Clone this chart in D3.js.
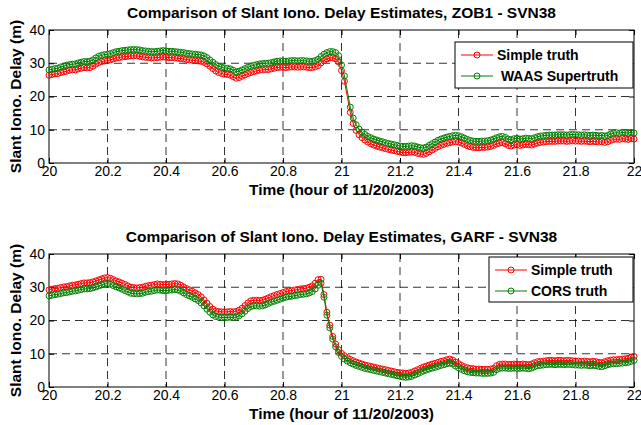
<!DOCTYPE html>
<html>
<head>
<meta charset="utf-8">
<script src="https://cdnjs.cloudflare.com/ajax/libs/d3/7.8.5/d3.min.js"></script>
<style>
  body { margin: 0; background: #fff; }
  svg { font-family: Arial, "Liberation Sans", Helvetica, sans-serif; }
  .tick text { font-size: 14px; fill: #000; }
  .tick line { stroke: #000; }
</style>
</head>
<body>
<div id="chart"></div>
<script>
// sample times: 20.00 .. 22.00 hr, every 0.01 hr
var startHour = 20, stepHour = 0.01

var xTicks = [20, 20.2, 20.4, 20.6, 20.8, 21, 21.2, 21.4, 21.6, 21.8, 22]
var yTicks = [0, 10, 20, 30, 40]

// ZOB1 - SVN38
var zobSimple = [
  26.4,26.6,26.8,26.9,27.2,27.4,27.6,27.9,28.0,28.0,
  28.3,28.5,28.7,28.6,28.7,29.1,29.7,30.2,30.5,30.7,
  30.8,31.0,31.3,31.6,31.7,31.9,32.0,32.1,32.2,32.2,
  32.2,32.1,31.9,31.8,31.7,31.6,31.6,31.7,31.8,31.9,
  31.8,31.7,31.7,31.6,31.5,31.4,31.3,31.1,31.0,30.9,
  30.8,30.7,30.6,30.3,29.8,29.1,28.4,27.7,27.2,26.9,
  26.7,26.6,26.4,26.0,25.5,25.7,26.1,26.5,26.9,27.2,
  27.5,27.7,27.9,28.0,28.1,28.1,28.3,28.5,28.7,28.8,
  28.8,28.7,28.8,28.9,28.9,28.8,28.9,28.9,28.8,28.7,
  28.7,28.9,29.3,30.1,30.8,31.3,31.6,31.6,31.3,30.4,
  27.8,24.6,null,15.2,11.9,9.8,8.5,7.6,6.9,6.3,
  5.8,5.4,5.1,4.8,4.6,4.3,4.1,3.9,3.7,3.5,
  3.3,3.1,3.1,3.2,3.3,3.2,2.9,2.7,2.6,2.9,
  3.4,3.9,4.4,4.9,5.3,5.6,5.9,6.1,6.3,6.4,
  6.3,6.0,5.6,5.2,4.9,4.7,4.6,4.6,4.7,4.7,
  4.8,5.0,5.3,5.7,6.0,6.1,5.8,5.3,5.1,5.4,
  5.5,5.3,5.4,5.6,5.5,5.4,5.7,6.0,6.2,6.3,
  6.4,6.5,6.5,6.5,6.6,6.6,6.6,6.5,6.6,6.7,
  6.6,6.6,6.5,6.6,6.5,6.4,6.5,6.4,6.3,6.4,
  6.2,6.4,6.8,7.1,7.2,7.1,7.3,7.2,7.1,7.3,
  7.2
]
var zobWaas = [
  28.0,28.2,28.4,28.5,28.9,29.1,29.4,29.6,29.7,29.8,
  30.1,30.3,30.5,30.5,30.6,31.0,31.6,32.1,32.4,32.6,
  32.7,32.9,33.2,33.5,33.6,33.8,33.9,34.0,34.1,34.1,
  34.1,34.0,33.8,33.7,33.6,33.5,33.5,33.6,33.7,33.8,
  33.7,33.6,33.6,33.5,33.4,33.3,33.2,33.0,32.9,32.8,
  32.7,32.6,32.5,32.2,31.7,31.0,30.3,29.6,29.1,28.8,
  28.6,28.5,28.3,27.9,27.4,27.6,28.0,28.4,28.8,29.1,
  29.4,29.6,29.8,29.9,30.0,30.0,30.2,30.4,30.6,30.7,
  30.7,30.6,30.7,30.8,30.8,30.7,30.8,30.8,30.7,30.6,
  30.6,30.8,31.2,32.0,32.7,33.2,33.5,33.5,33.2,32.3,
  29.5,26.2,null,16.8,13.5,11.5,10.2,9.3,8.6,8.0,
  7.6,7.2,6.9,6.6,6.4,6.1,5.9,5.7,5.5,5.3,
  5.1,5.0,5.0,5.1,5.2,5.1,4.8,4.6,4.5,4.8,
  5.3,5.8,6.3,6.8,7.2,7.5,7.8,8.0,8.2,8.3,
  8.2,7.9,7.5,7.1,6.8,6.6,6.5,6.5,6.6,6.6,
  6.7,6.9,7.2,7.6,7.9,8.0,7.7,7.2,7.0,7.3,
  7.4,7.2,7.3,7.5,7.4,7.3,7.6,7.9,8.1,8.2,
  8.3,8.4,8.4,8.4,8.5,8.5,8.5,8.4,8.5,8.6,
  8.5,8.5,8.4,8.5,8.4,8.3,8.4,8.3,8.2,8.3,
  8.1,8.3,8.7,9.0,9.1,9.0,9.2,9.1,9.0,9.2,
  9.0
]

// GARF - SVN38
var garfSimple = [
  29.2,29.4,29.6,29.7,29.9,30.1,30.2,30.4,30.6,30.7,
  30.9,31.1,31.3,31.3,31.4,31.6,31.9,32.2,32.5,32.8,
  32.9,32.7,32.3,31.9,31.6,31.2,30.8,30.4,30.0,29.9,
  29.8,29.9,30.0,30.3,30.5,30.6,30.8,31.0,30.9,30.8,
  30.8,30.9,31.0,31.1,31.0,30.6,30.1,29.6,29.2,28.8,
  28.3,27.8,27.1,26.2,25.2,24.2,23.4,22.9,22.7,22.6,
  22.6,22.6,22.7,22.6,22.7,23.1,23.7,24.5,25.3,25.9,
  26.1,26.1,26.0,26.1,26.4,26.8,27.2,27.5,27.8,28.1,
  28.4,28.7,28.9,29.0,29.2,29.3,29.5,29.6,29.7,30.0,
  30.4,31.2,32.3,32.4,27.8,22.5,18.6,15.2,12.9,11.2,
  10.1,9.4,8.8,8.3,7.9,7.5,7.2,6.9,6.6,6.4,
  6.2,6.0,5.8,5.6,5.4,5.2,5.0,4.8,4.6,4.4,
  4.3,4.2,4.1,4.2,4.4,4.8,5.2,5.6,6.0,6.3,
  6.6,6.9,7.1,7.4,7.7,7.9,8.2,8.4,8.1,7.5,
  7.0,6.5,6.1,5.8,5.6,5.5,5.4,5.4,5.3,5.3,
  5.3,5.4,5.6,6.4,6.8,6.9,6.9,6.8,6.8,6.9,
  6.8,6.8,6.9,6.8,6.7,6.9,7.3,7.6,7.7,7.8,
  7.9,8.0,8.0,7.9,8.0,8.0,7.9,8.0,8.0,7.9,
  7.8,7.8,7.7,7.8,7.7,7.6,7.7,7.6,7.4,7.3,
  7.6,7.9,8.1,8.2,8.2,8.3,8.4,8.5,8.6,8.9,
  9.2
]
var garfCors = [
  27.4,27.6,27.8,27.9,28.1,28.3,28.4,28.6,28.8,28.9,
  29.1,29.3,29.5,29.5,29.6,29.8,30.1,30.4,30.7,31.0,
  31.1,30.9,30.5,30.1,29.8,29.4,29.0,28.6,28.2,28.1,
  28.0,28.1,28.2,28.5,28.7,28.8,29.0,29.2,29.1,29.0,
  29.0,29.1,29.2,29.3,29.2,28.8,28.3,27.8,27.4,27.0,
  26.5,26.0,25.3,24.4,23.4,22.5,21.7,21.2,21.0,20.9,
  20.9,20.9,21.0,20.9,21.0,21.4,22.0,22.8,23.6,24.2,
  24.4,24.4,24.3,24.4,24.7,25.1,25.5,25.8,26.1,26.4,
  26.7,27.0,27.2,27.3,27.5,27.6,27.8,27.9,28.0,28.3,
  28.7,29.5,30.6,31.2,27.0,21.6,17.8,14.4,12.1,10.4,
  9.2,8.4,7.8,7.3,6.9,6.5,6.2,5.9,5.6,5.4,
  5.2,5.0,4.8,4.6,4.4,4.2,4.0,3.8,3.6,3.4,
  3.2,3.0,2.9,3.0,3.2,3.6,4.0,4.4,4.8,5.1,
  5.4,5.7,5.9,6.2,6.5,6.7,7.0,7.2,6.9,6.3,
  5.8,5.3,4.9,4.6,4.4,4.3,4.2,4.2,4.1,4.1,
  4.1,4.2,4.4,5.2,5.6,5.7,5.7,5.6,5.6,5.7,
  5.6,5.6,5.7,5.6,5.5,5.7,6.1,6.4,6.5,6.6,
  6.7,6.8,6.8,6.7,6.8,6.8,6.7,6.8,6.8,6.7,
  6.6,6.6,6.5,6.6,6.5,6.4,6.5,6.4,6.2,6.1,
  6.4,6.7,6.9,7.0,7.0,7.1,7.2,7.3,7.4,7.7,
  8.0
]

var width = 641, height = 425
var svg = d3.select("#chart").append("svg")
    .attr("width", width)
    .attr("height", height)

function toPoints(vals) {
  var pts = []
  vals.forEach(function(v, i) {
    if (v != null) pts.push({ t: startHour + i*stepHour, v: v })
  })
  return pts
}

function tickLabel(d) { return String(d) }

function drawPanel(cfg) {
  var x = d3.scaleLinear().domain([20, 22]).range([cfg.left, cfg.right])
  var y = d3.scaleLinear().domain([0, 40]).range([cfg.bottom, cfg.top])
  var g = svg.append("g")

  // dashed grid
  g.selectAll("line.vgrid")
      .data(xTicks.slice(1, -1))
    .enter().append("line")
      .attr("x1", function(d) { return x(d) }).attr("x2", function(d) { return x(d) })
      .attr("y1", cfg.top).attr("y2", cfg.bottom)
      .style("stroke", "#000").style("stroke-dasharray", "8,5").style("stroke-width", 0.8)
  g.selectAll("line.hgrid")
      .data(yTicks.slice(1, -1))
    .enter().append("line")
      .attr("x1", cfg.left).attr("x2", cfg.right)
      .attr("y1", function(d) { return y(d) }).attr("y2", function(d) { return y(d) })
      .style("stroke", "#000").style("stroke-dasharray", "8,5").style("stroke-width", 0.8)

  // axes, MATLAB style ticks pointing inward
  g.append("g").attr("transform", "translate(0," + cfg.bottom + ")")
    .call(d3.axisBottom(x).tickValues(xTicks).tickSizeInner(-5).tickSizeOuter(0).tickPadding(3).tickFormat(tickLabel))
  g.append("g").attr("transform", "translate(0," + cfg.top + ")")
    .call(d3.axisTop(x).tickValues(xTicks).tickSizeInner(-5).tickSizeOuter(0).tickFormat(""))
  g.append("g").attr("transform", "translate(" + cfg.left + ",0)")
    .call(d3.axisLeft(y).tickValues(yTicks).tickSizeInner(-5).tickSizeOuter(0).tickPadding(4).tickFormat(tickLabel))
  g.append("g").attr("transform", "translate(" + cfg.right + ",0)")
    .call(d3.axisRight(y).tickValues(yTicks).tickSizeInner(-5).tickSizeOuter(0).tickFormat(""))
  g.selectAll(".domain").remove()

  // frame
  g.append("rect")
    .attr("x", cfg.left).attr("y", cfg.top)
    .attr("width", cfg.right - cfg.left).attr("height", cfg.bottom - cfg.top)
    .style("fill", "none").style("stroke", "#000").style("stroke-width", 1)

  var line = d3.line()
    .x(function(d) { return x(d.t) })
    .y(function(d) { return y(d.v) })

  cfg.series.forEach(function(s) {
    var pts = toPoints(s.values)
    g.append("path").datum(pts)
      .attr("d", line)
      .style("fill", "none").style("stroke", s.color).style("stroke-width", 1)
    g.selectAll("circle.m" + s.key)
        .data(pts)
      .enter().append("circle")
        .attr("cx", function(d) { return x(d.t) })
        .attr("cy", function(d) { return y(d.v) })
        .attr("r", 3)
        .style("fill", "none").style("stroke", s.color).style("stroke-width", 1)
  })

  // title & labels
  svg.append("text")
    .attr("x", (cfg.left + cfg.right)/2).attr("y", cfg.top - 12)
    .attr("text-anchor", "middle")
    .style("font-size", "15.5px").style("font-weight", "bold")
    .text(cfg.title)
  svg.append("text")
    .attr("x", (cfg.left + cfg.right)/2).attr("y", cfg.bottom + 32)
    .attr("text-anchor", "middle")
    .style("font-size", "15.5px").style("font-weight", "bold")
    .text("Time (hour of 11/20/2003)")
  svg.append("text")
    .attr("transform", "translate(21," + (cfg.top + cfg.bottom)/2 + ") rotate(-90)")
    .attr("text-anchor", "middle")
    .style("font-size", "15.5px").style("font-weight", "bold")
    .text("Slant Iono. Delay (m)")

  // legend
  var lg = svg.append("g")
  lg.append("rect")
    .attr("x", cfg.legend.x).attr("y", cfg.legend.y)
    .attr("width", cfg.legend.w).attr("height", cfg.legend.h)
    .style("fill", "#fff").style("stroke", "#000").style("stroke-width", 1)
  cfg.series.forEach(function(s, i) {
    var ly = cfg.legend.y + 13 + i*21
    var lx = cfg.legend.x + 6
    lg.append("line")
      .attr("x1", lx).attr("x2", lx + 32).attr("y1", ly).attr("y2", ly)
      .style("stroke", s.color).style("stroke-width", 1)
    lg.append("circle")
      .attr("cx", lx + 16).attr("cy", ly).attr("r", 3)
      .style("fill", "none").style("stroke", s.color)
    lg.append("text")
      .attr("x", lx + 36).attr("y", ly + 5)
      .style("font-size", "14px").style("font-weight", "bold")
      .style("white-space", "pre").attr("xml:space", "preserve")
      .text(s.name)
  })
}

drawPanel({
  left: 49, right: 634, top: 30, bottom: 163,
  title: "Comparison of Slant Iono. Delay Estimates, ZOB1 - SVN38",
  legend: { x: 455, y: 42, w: 178, h: 46 },
  series: [
    { key: "a", name: "Simple truth", color: "#ff0000", values: zobSimple },
    { key: "b", name: " WAAS Supertruth", color: "#008000", values: zobWaas }
  ]
})

drawPanel({
  left: 49, right: 634, top: 254, bottom: 387,
  title: "Comparison of Slant Iono. Delay Estimates, GARF - SVN38",
  legend: { x: 489, y: 257, w: 144, h: 45 },
  series: [
    { key: "a", name: "Simple truth", color: "#ff0000", values: garfSimple },
    { key: "b", name: "CORS truth", color: "#008000", values: garfCors }
  ]
})
</script>
</body>
</html>
